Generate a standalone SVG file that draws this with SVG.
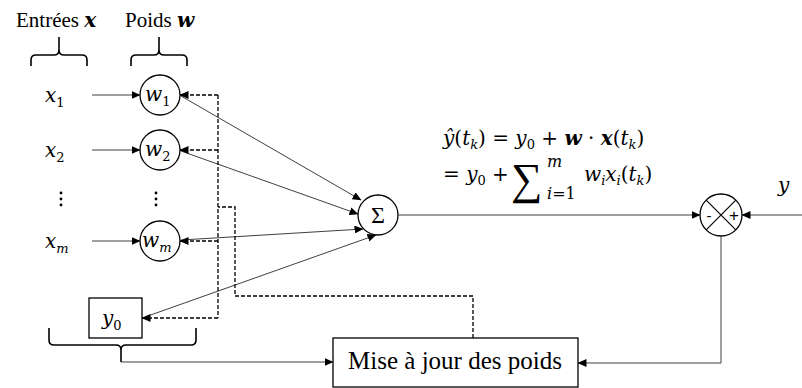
<svg xmlns="http://www.w3.org/2000/svg" width="802" height="388" viewBox="0 0 802 388">
<defs>
<marker id="ah" markerWidth="9" markerHeight="8" refX="8.5" refY="4" orient="auto" markerUnits="userSpaceOnUse">
<path d="M0,0 L9,4 L0,8 Z" fill="#000"/>
</marker>
<style>
.lbl{font-family:'Liberation Serif','Times New Roman',serif;font-size:21px;fill:#000}
.big{font-size:25px}
.sig{font-size:24px}
.m{font-family:'DejaVu Serif',serif;font-size:20px;font-style:italic;fill:#000}
.sub{font-size:13px;font-style:normal}
.subi{font-size:13px;font-style:italic}
.up{font-style:normal}
.bd{font-weight:bold}
.node{fill:#fff;stroke:#000;stroke-width:1.3}
.brace{fill:none;stroke:#000;stroke-width:1.6}
.sol{fill:none;stroke:#404040;stroke-width:1}
.dash{fill:none;stroke:#000;stroke-width:1.3;stroke-dasharray:4,2}
</style>
</defs>
<rect width="802" height="388" fill="#fff"/>

<g id="labels">
<text class="lbl" x="16" y="27">Entrées <tspan class="m bd">x</tspan></text>
<text class="lbl" x="125" y="27">Poids <tspan class="m bd">w</tspan></text>
<path class="brace" d="M31,66 L31,60 Q31,55 36,55 L54,55 Q59,55 59,50 L59,37 M59,50 Q59,55 64,55 L82,55 Q87,55 87,60 L87,66"/>
<path class="brace" d="M131,66 L131,60 Q131,55 136,55 L154,55 Q159,55 159,50 L159,37 M159,50 Q159,55 164,55 L182,55 Q187,55 187,60 L187,66"/>
<path class="brace" d="M49,328 L49,340 Q49,345 54,345 L116,345 Q121,345 121,350 L121,362 M121,350 Q121,345 126,345 L191,345 Q196,345 196,340 L196,328"/>
</g>

<g id="inputs">
<text class="m" x="45" y="102">x<tspan class="sub" dy="5">1</tspan></text>
<text class="m" x="45" y="157">x<tspan class="sub" dy="5">2</tspan></text>
<text class="m" x="45" y="248">x<tspan class="subi" dy="5">m</tspan></text>
<g fill="#000"><circle cx="61" cy="193" r="1.4"/><circle cx="61" cy="199" r="1.4"/><circle cx="61" cy="205" r="1.4"/>
<circle cx="156" cy="193" r="1.4"/><circle cx="156" cy="199" r="1.4"/><circle cx="156" cy="205" r="1.4"/></g>
</g>

<g id="w1"><circle class="node" cx="160" cy="95" r="20"/><text class="m" x="145" y="101">w<tspan class="sub" dy="5">1</tspan></text></g>
<g id="w2"><circle class="node" cx="160" cy="150" r="20"/><text class="m" x="145" y="156">w<tspan class="sub" dy="5">2</tspan></text></g>
<g id="wm"><circle class="node" cx="160" cy="241" r="20"/><text class="m" x="142" y="247">w<tspan class="subi" dy="5">m</tspan></text></g>
<g id="y0"><rect class="node" x="89" y="298" width="53" height="40"/><text class="m" x="102" y="325">y<tspan class="sub" dy="5">0</tspan></text></g>
<g id="sum"><circle class="node" cx="378" cy="215" r="20"/><text class="lbl sig" x="378" y="223" text-anchor="middle">Σ</text></g>
<g id="comparator"><circle class="node" cx="721" cy="215" r="21"/>
<path d="M706.2,200.2 L735.8,229.8 M735.8,200.2 L706.2,229.8" stroke="#000" stroke-width="1.2"/>
<text x="709" y="221" font-family="Liberation Sans,sans-serif" font-size="15" text-anchor="middle">-</text>
<text x="734" y="221" font-family="Liberation Sans,sans-serif" font-size="17" text-anchor="middle">+</text>
</g>
<g id="update"><rect class="node" x="333" y="338" width="245" height="49"/><text class="lbl big" x="455" y="369" text-anchor="middle">Mise à jour des poids</text></g>

<g id="formula">
<text class="m" x="443" y="145">ŷ<tspan class="up">(</tspan>t<tspan class="subi" dy="4">k</tspan><tspan class="up" dy="-4">) = </tspan>y<tspan class="sub" dy="4">0</tspan><tspan class="up" dy="-4"> + </tspan><tspan class="bd">w</tspan><tspan class="up"> · </tspan><tspan class="bd">x</tspan><tspan class="up">(</tspan>t<tspan class="subi" dy="4">k</tspan><tspan class="up" dy="-4">)</tspan></text>
<text class="m" x="443" y="181"><tspan class="up">= </tspan>y<tspan class="sub" dy="4">0</tspan><tspan class="up" dy="-4"> + </tspan></text>
<text x="511" y="194" font-family="Liberation Serif, serif" font-size="44">∑</text>
<text x="547" y="167" style="font-family:'DejaVu Serif',serif;font-size:16px;font-style:italic">m</text>
<text x="547" y="199" style="font-family:'DejaVu Serif',serif;font-size:16px;font-style:italic">i<tspan style="font-style:normal">=1</tspan></text>
<text class="m" x="584" y="181">w<tspan class="subi" dy="4">i</tspan><tspan dy="-4">x</tspan><tspan class="subi" dy="4">i</tspan><tspan class="up" dy="-4">(</tspan>t<tspan class="subi" dy="4">k</tspan><tspan class="up" dy="-4">)</tspan></text>
<text class="m" x="778" y="192">y</text>
</g>

<g id="connectors">
<line class="sol" x1="92" y1="95" x2="140" y2="95" marker-end="url(#ah)"/>
<line class="sol" x1="92" y1="150" x2="140" y2="150" marker-end="url(#ah)"/>
<line class="sol" x1="92" y1="241" x2="140" y2="241" marker-end="url(#ah)"/>
<line class="sol" x1="181" y1="96" x2="361" y2="200" marker-end="url(#ah)"/>
<line class="sol" x1="181" y1="151" x2="358" y2="214" marker-end="url(#ah)"/>
<line class="sol" x1="181" y1="240" x2="363" y2="229" marker-end="url(#ah)"/>
<line class="sol" x1="145" y1="317" x2="376" y2="235" marker-end="url(#ah)"/>
<line class="sol" x1="398" y1="215" x2="700" y2="215" marker-end="url(#ah)"/>
<line class="sol" x1="802" y1="215" x2="742" y2="215" marker-end="url(#ah)"/>
<polyline class="sol" points="721,236 721,363 578,363" marker-end="url(#ah)"/>
<polyline class="sol" points="121,362 333,362" marker-end="url(#ah)"/>
<path class="dash" d="M218,95 L218,318"/>
<line class="dash" x1="218" y1="95" x2="180" y2="95" marker-end="url(#ah)"/>
<line class="dash" x1="218" y1="150" x2="180" y2="150" marker-end="url(#ah)"/>
<line class="dash" x1="218" y1="241" x2="180" y2="241" marker-end="url(#ah)"/>
<line class="dash" x1="218" y1="318" x2="142" y2="318" marker-end="url(#ah)"/>
<polyline class="dash" points="473,338 473,296 235,296 235,207 218,207"/>
</g>
</svg>
